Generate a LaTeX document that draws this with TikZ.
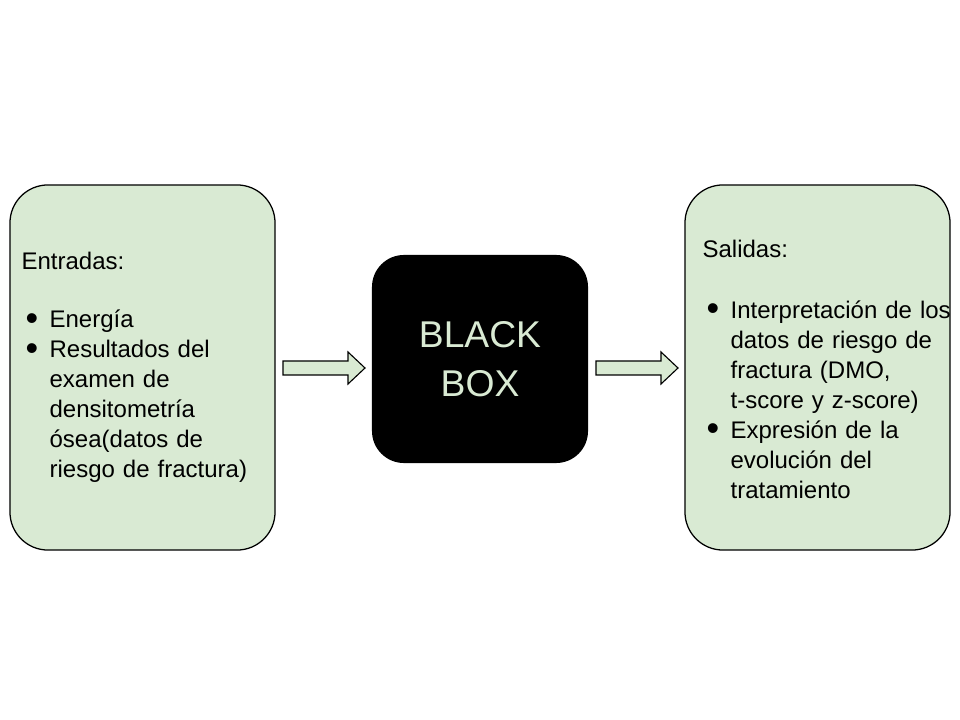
\documentclass[tikz,border=0pt]{standalone}
\usepackage{fontspec}
\usepackage{graphicx}
\setmainfont{Liberation Sans}
\usetikzlibrary{calc}

\definecolor{verdeclaro}{HTML}{D9EAD3}

\newcommand{\bala}{\hspace*{0.1cm}\makebox[0.6cm][l]{\smash{\raisebox{-0.12em}{\scalebox{1.5}{\textbullet}}}}}
\newcommand{\sangria}{\hspace*{0.7cm}}

\tikzset{
  caja/.style={draw=black, fill=verdeclaro, line width=0.9pt, rounded corners=0.95cm,
    minimum width=6.625cm, minimum height=9.125cm},
  lista/.style={anchor=west, inner sep=0pt, text width=7cm, align=left,
    font=\fontsize{17.07pt}{21.34pt}\selectfont},
  negra/.style={fill=black, rounded corners=0.8cm, minimum width=5.4cm, minimum height=5.2cm,
    text=verdeclaro, align=center, font=\fontsize{26.5pt}{34.5pt}\selectfont},
  flecha/.style={draw=black, fill=verdeclaro, line width=0.8pt}
}

\begin{document}
\begin{tikzpicture}[x=0.025cm, y=-0.025cm]
  \useasboundingbox (0,0) rectangle (960,720);

  % Cajas
  \node[caja] (entradas) at (142.5,367.5) {};
  \node[negra] (caja) at (480,359) {BLACK\\BOX};
  \node[caja] (salidas) at (817.5,367.5) {};

  % Textos
  \node[lista] (txtentradas) at ($(entradas.west)+(12,0)$) {Entradas:\\[20pt]
    \bala Energía\\
    \bala Resultados del\\
    \sangria examen de\\
    \sangria densitometría\\
    \sangria ósea(datos de\\
    \sangria riesgo de fractura)};
  \node[lista] (txtsalidas) at ($(salidas.west)+(18,1.5)$) {Salidas:\\[22pt]
    \bala Interpretación de los\\
    \sangria datos de riesgo de\\
    \sangria fractura (DMO,\\
    \sangria t-score y z-score)\\
    \bala Expresión de la\\
    \sangria evolución del\\
    \sangria tratamiento};

  % Flechas
  \foreach \n/\x in {1/283, 2/596} {
    \coordinate (ini\n) at (\x,368);
    \coordinate (fin\n) at (\x+82,368);
    \draw[flecha] (ini\n) -- ++(0,-7) -- ++(65,0) -- ++(0,-9) -- (fin\n)
      -- ++(-17,16) -- ++(0,-9) -- ++(-65,0) -- cycle;
  }
\end{tikzpicture}
\end{document}
